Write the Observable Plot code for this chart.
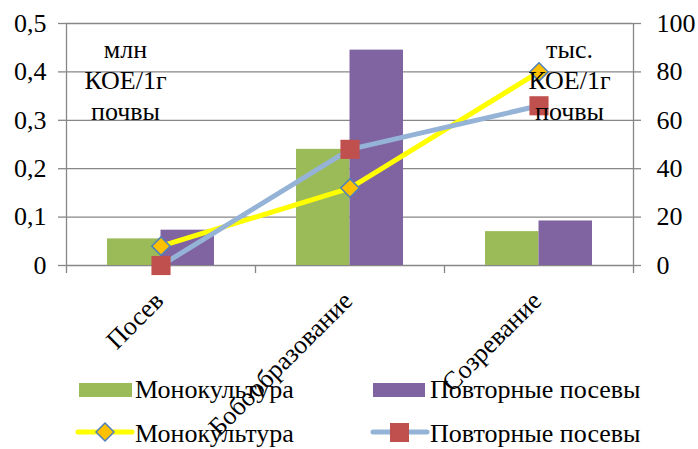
<!DOCTYPE html>
<html><head><meta charset="utf-8">
<script src="https://cdn.jsdelivr.net/npm/d3@7"></script>
<script src="https://cdn.jsdelivr.net/npm/@observablehq/plot@0.6"></script>
<style>
body{margin:0;background:#fff;}
#wrap{position:relative;width:698px;height:449px;font-family:'Liberation Serif','Tinos','Times New Roman','Times','Nimbus Roman','Nimbus Roman No9 L','FreeSerif','Noto Serif','DejaVu Serif',serif;}
#wrap svg, #wrap svg text{font-family:inherit;}
#legend{position:absolute;left:0;top:0;width:698px;height:449px;pointer-events:none;}
.item{position:absolute;height:26px;font-size:26px;line-height:26px;color:#000;white-space:nowrap;}
.item svg{position:absolute;left:0;top:0;overflow:visible;}
.item span{position:absolute;top:0;}
</style></head><body><div id="wrap"><div id="legend"></div></div>
<script>
const categories = ["Посев", "Бобообразование", "Созревание"];
const seriesNames = ["Монокультура", "Повторные посевы"];
const barMono = [0.055, 0.24, 0.07];      // млн КОЕ/1г почвы
const barRepeat = [0.073, 0.445, 0.092];
const lineMono = [8, 32, 80];             // тыс. КОЕ/1г почвы
const lineRepeat = [0, 48, 66];
const leftTicks = [0, 0.1, 0.2, 0.3, 0.4, 0.5];
const leftTickLabels = ["0", "0,1", "0,2", "0,3", "0,4", "0,5"];
const rightTickLabels = ["0", "20", "40", "60", "80", "100"];
const leftUnit = ["млн", "КОЕ/1г", "почвы"];
const rightUnit = ["тыс.", "КОЕ/1г", "почвы"];

const gray = "#878787";
const cGreen = "#9BBB59", cPurple = "#8064A2";
const cYellow = "#FFFF00", cBlue = "#95B3D7", cOrange = "#FFC000", cRed = "#C0504D", cEdge = "#4F81BD";
const rightMax = 100, leftMax = 0.5;
const toLeft = v => v / rightMax * leftMax;
const barW = 0.283; // fraction of a category band per bar

const bars = categories.flatMap((c, i) => [
  {i, s: 0, v: barMono[i]},
  {i, s: 1, v: barRepeat[i]}
]);
const mono = categories.map((c, i) => ({i, v: lineMono[i]}));
const rep = categories.map((c, i) => ({i, v: lineRepeat[i]}));
const bounds = d3.range(categories.length + 1);

const chart = Plot.plot({
  width: 698, height: 449,
  marginLeft: 66, marginRight: 65, marginTop: 23, marginBottom: 184,
  style: {fontSize: "26px", color: "#000", background: "transparent", fontFamily: "inherit"},
  x: {type: "linear", domain: [0, categories.length], axis: null},
  y: {domain: [0, leftMax], axis: null},
  marks: [
    Plot.ruleY(leftTicks, {stroke: gray, strokeWidth: 1.3}),
    Plot.ruleX([0, categories.length], {stroke: gray, strokeWidth: 1.3}),
    Plot.axisX(bounds, {anchor: "bottom", tickSize: 8, tickFormat: () => "", label: null, stroke: gray, strokeWidth: 1.3}),
    Plot.axisY(leftTicks, {anchor: "left", tickSize: 8, tickPadding: 12, stroke: gray, strokeWidth: 1.3, label: null,
      tickFormat: d => leftTickLabels[leftTicks.indexOf(d)], fontSize: 26}),
    Plot.axisY(leftTicks, {anchor: "right", tickSize: 7, tickPadding: 16, stroke: gray, strokeWidth: 1.3, label: null,
      tickFormat: d => rightTickLabels[leftTicks.indexOf(d)], fontSize: 26, textAnchor: "start"}),
    Plot.rect(bars, {
      x1: d => d.i + 0.5 - (d.s === 0 ? barW : 0),
      x2: d => d.i + 0.5 + (d.s === 1 ? barW : 0),
      y1: 0, y2: "v",
      fill: d => d.s === 0 ? cGreen : cPurple
    }),
    Plot.line(mono, {x: d => d.i + 0.5, y: d => toLeft(d.v), stroke: cYellow, strokeWidth: 5}),
    Plot.dot(mono, {x: d => d.i + 0.5, y: d => toLeft(d.v), symbol: "diamond2", r: 8.3, fill: cOrange, stroke: cEdge, strokeWidth: 1.5}),
    Plot.line(rep, {x: d => d.i + 0.5, y: d => toLeft(d.v), stroke: cBlue, strokeWidth: 5}),
    Plot.dot(rep, {x: d => d.i + 0.5, y: d => toLeft(d.v), symbol: "square", r: 10.8, fill: cRed}),
    Plot.text(categories, {x: (d, i) => i + 0.5, y: 0, text: d => d, rotate: -45, textAnchor: "end",
      dx: -2, dy: 31, fontSize: 26}),
    Plot.text([leftUnit.join("\n")], {frameAnchor: "top-left", dx: 59, dy: 12, lineAnchor: "top",
      textAnchor: "middle", lineHeight: 1.2, fontSize: 26}),
    Plot.text([rightUnit.join("\n")], {frameAnchor: "top-right", dx: -64, dy: 12, lineAnchor: "top",
      textAnchor: "middle", lineHeight: 1.2, fontSize: 26})
  ]
});
const wrap = document.getElementById("wrap");
wrap.insertBefore(chart, wrap.firstChild);

// Legend
const legend = document.getElementById("legend");
const items = [
  {label: seriesNames[0], left: 78, top: 377, icon: `<rect x="1" y="6" width="53" height="14" fill="${cGreen}"/>`},
  {label: seriesNames[1], left: 373, top: 377, icon: `<rect x="0" y="6" width="52" height="14" fill="${cPurple}"/>`},
  {label: seriesNames[0], left: 78, top: 421, icon: `<line x1="0" y1="11" x2="54" y2="11" stroke="${cYellow}" stroke-width="5" stroke-linecap="round"/><path d="M27,2 L36,11 L27,20 L18,11 Z" fill="${cOrange}" stroke="${cEdge}" stroke-width="1.5"/>`},
  {label: seriesNames[1], left: 373, top: 421, icon: `<line x1="0" y1="11" x2="54" y2="11" stroke="${cBlue}" stroke-width="5" stroke-linecap="round"/><rect x="17" y="2" width="19" height="19" fill="${cRed}"/>`}
];
for (const it of items) {
  const div = document.createElement("div");
  div.className = "item";
  div.style.left = it.left + "px";
  div.style.top = it.top + "px";
  div.innerHTML = `<svg width="56" height="26">${it.icon}</svg><span style="left:57px">${it.label}</span>`;
  legend.appendChild(div);
}
</script></body></html>
